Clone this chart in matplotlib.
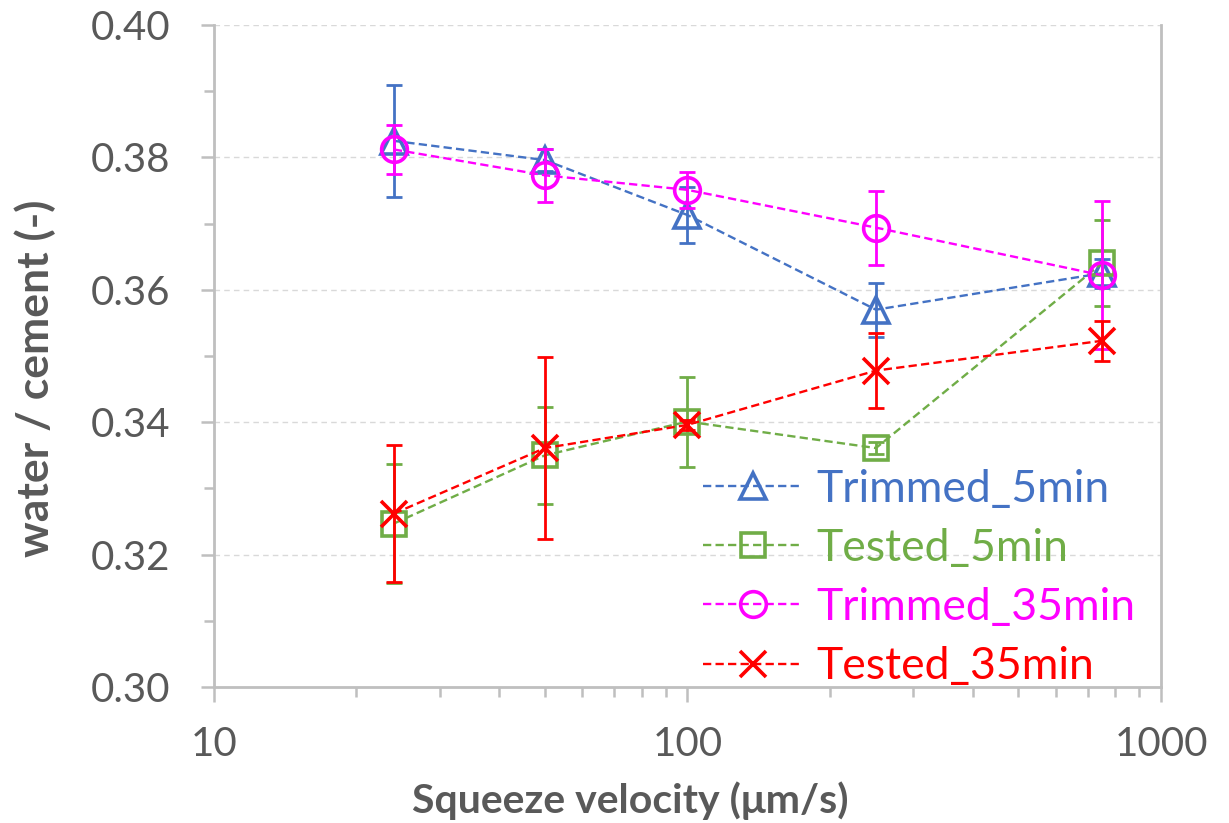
import matplotlib
matplotlib.use("Agg")
import matplotlib.pyplot as plt
from matplotlib.ticker import FixedLocator, NullFormatter, MultipleLocator, FormatStrFormatter

plt.rcParams['font.family'] = ['Lato', 'DejaVu Sans']

# squeeze velocity (um/s)
velocity = [24, 50, 100, 250, 750]

trimmed_5 = [0.3825, 0.3796, 0.3713, 0.3570, 0.3625]
trimmed_5_err = [0.0085, 0.0016, 0.0042, 0.0041, 0.0022]
tested_5 = [0.3247, 0.3350, 0.3401, 0.3361, 0.3640]
tested_5_err = [0.0090, 0.0073, 0.0068, 0.0009, 0.0065]
trimmed_35 = [0.3812, 0.3773, 0.3751, 0.3694, 0.3622]
trimmed_35_err = [0.0037, 0.0040, 0.0027, 0.0056, 0.0112]
tested_35 = [0.3262, 0.3361, 0.3396, 0.3478, 0.3523]
tested_35_err = [0.0103, 0.0138, 0.0008, 0.0057, 0.0030]

labels = ['Trimmed_5min', 'Tested_5min', 'Trimmed_35min', 'Tested_35min']

series = [
    (trimmed_5, trimmed_5_err, '#4472C4', '^', 18.5),
    (tested_5, tested_5_err, '#70AD47', 's', 17.5),
    (trimmed_35, trimmed_35_err, '#FF00FF', 'o', 18.5),
    (tested_35, tested_35_err, '#FF0000', 'x', 19),
]

fig = plt.figure(figsize=(12.29, 8.23), dpi=100)
ax = fig.add_axes([0.174, 0.1652, 0.7707, 0.8044])

for i, (vals, err, col, mk, ms) in enumerate(series):
    z = 3 + i
    ax.errorbar(velocity, vals, yerr=err, fmt='none', ecolor=col,
                elinewidth=2.0, capsize=6, capthick=2.0, zorder=z)
    ax.plot(velocity, vals, color=col, linestyle=(0, (3.5, 1.8)), linewidth=1.7,
            marker=mk, markersize=ms, markerfacecolor='none',
            markeredgecolor=col, markeredgewidth=2.6, label=labels[i], zorder=z)

ax.set_xscale('log')
ax.set_xlim(10, 1000)
ax.set_ylim(0.30, 0.40)

ax.yaxis.set_major_locator(MultipleLocator(0.02))
ax.yaxis.set_minor_locator(MultipleLocator(0.01))
ax.yaxis.set_major_formatter(FormatStrFormatter('%.2f'))
ax.xaxis.set_major_locator(FixedLocator([10, 100, 1000]))
ax.xaxis.set_major_formatter(FormatStrFormatter('%d'))
ax.xaxis.set_minor_locator(FixedLocator([20, 30, 40, 50, 60, 70, 80, 90,
                                         200, 300, 400, 500, 600, 700, 800, 900]))
ax.xaxis.set_minor_formatter(NullFormatter())

ax.grid(True, which='major', axis='y', color='#d9d9d9', linestyle=(0, (4, 3)), linewidth=1.0)
ax.set_axisbelow(True)

for s in ['left', 'bottom', 'right']:
    ax.spines[s].set_color('#bfbfbf')
    ax.spines[s].set_linewidth(2.0)
ax.spines['top'].set_visible(False)

ax.tick_params(axis='both', which='major', direction='out', width=1.8,
               color='#bfbfbf', labelcolor='#595959', labelsize=29)
ax.tick_params(axis='both', which='minor', direction='out', length=7, width=1.8,
               color='#bfbfbf')
ax.tick_params(axis='y', which='major', length=9.5, pad=22)
ax.tick_params(axis='x', which='major', length=11, pad=17)

ax.set_xlabel('Squeeze velocity (μm/s)', fontsize=29.5, fontweight='bold', color='#595959')
ax.xaxis.set_label_coords(0.44, -0.142)
ax.set_ylabel('water / cement (-)', fontsize=32, fontweight='bold', color='#595959')
ax.yaxis.set_label_coords(-0.167, 0.466)

leg = ax.legend(loc='upper left', bbox_to_anchor=(0.516, 0.33), frameon=False,
                fontsize=32, handlelength=2.25, handletextpad=0.3, labelspacing=0.41,
                borderpad=0, borderaxespad=0)
for txt, (_, _, col, _, _) in zip(leg.get_texts(), series):
    txt.set_color(col)

fig.savefig('out.png', dpi=100, facecolor='white')
